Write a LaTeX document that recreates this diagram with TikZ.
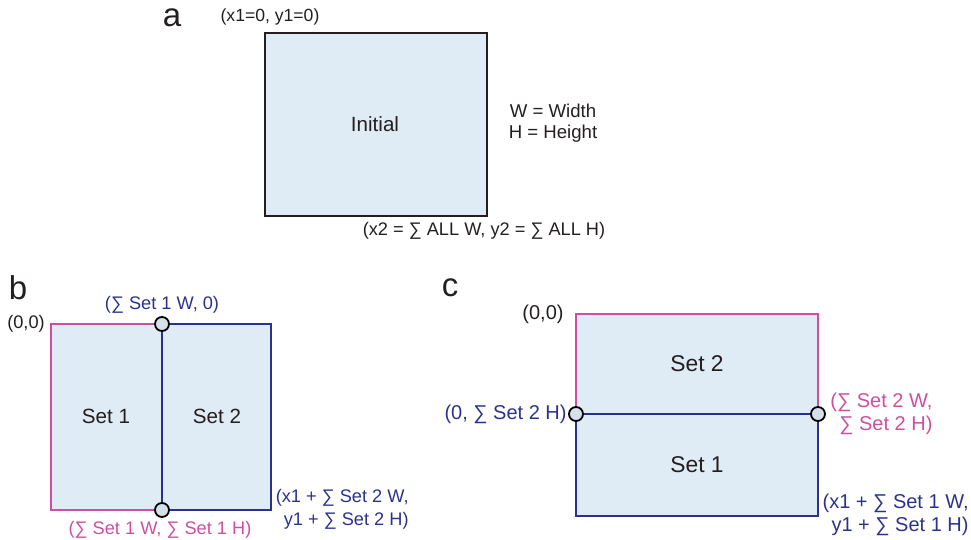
\documentclass[tikz,border=0pt]{standalone}
\usepackage{fontspec}
\setmainfont{Liberation Sans}
\usepackage{xcolor}
\definecolor{rpfill}{RGB}{223,235,245}
\definecolor{rppink}{RGB}{206,78,160}
\definecolor{rpblue}{RGB}{44,50,140}
\definecolor{rpdot}{RGB}{214,224,232}
\definecolor{rptext}{RGB}{35,31,32}
\usetikzlibrary{positioning}

\begin{document}
\begin{tikzpicture}[x=0.5pt, y=-0.5pt,
  edge/.style={line width=1pt},
  joint/.style={circle, draw=black, fill=rpdot, line width=0.9pt, minimum size=7pt, inner sep=0pt},
  coordlbl/.style={font=\fontsize{9.1}{11.5}\selectfont, inner sep=0pt, text=rptext},
  bigcoordlbl/.style={coordlbl, font=\fontsize{10}{11.5}\selectfont},
  setlbl/.style={font=\fontsize{10.3}{12}\selectfont, inner sep=0pt, text=rptext},
  panellbl/.style={font=\fontsize{16.5}{18}\selectfont, inner sep=0pt, text=rptext}]
  \useasboundingbox (0,0) rectangle (971,540);

  % --- Panel a: initial rectangle ---
  \node[panellbl] (la) at (172,18) {a};
  \coordinate (aTL) at (265,33);
  \coordinate (aBR) at (487,216);
  \draw[edge, draw=rptext, fill=rpfill] (aTL) rectangle (aBR);
  \node[setlbl] (init) at (375,124) {Initial};
  \node[coordlbl, font=\fontsize{8.8}{9}\selectfont] (aorig) at (270,17) {(x1=0, y1=0)};
  \node[coordlbl, align=center, font=\fontsize{9.3}{10.7}\selectfont] (legend) at (553,123) {W = Width\\H = Height};
  \node[coordlbl] (aend) at (484,231) {(x2 = ∑ ALL W, y2 = ∑ ALL H)};

  % --- Panel b: sets side by side ---
  \node[panellbl] (lb) at (18,288) {b};
  \coordinate (bTL) at (51,324);
  \coordinate (bTM) at (162,324);
  \coordinate (bTR) at (271,324);
  \coordinate (bBL) at (51,510);
  \coordinate (bBM) at (162,510);
  \coordinate (bBR) at (271,510);
  \fill[rpfill] (bTL) rectangle (bBR);
  \draw[edge, rppink] (bTM) -- (bTL) -- (bBL) -- (bBM);
  \draw[edge, rpblue] (bTM) -- (bTR) -- (bBR) -- (bBM);
  \draw[edge, rpblue] (bTM) -- (bBM);
  \node[joint] (bjTop) at (bTM) {};
  \node[joint] (bjBot) at (bBM) {};
  \node[setlbl] (bset1) at (106,416) {Set 1};
  \node[setlbl] (bset2) at (217,416) {Set 2};
  \node[coordlbl] (borig) at (26,324) {(0,0)};
  \node[coordlbl, text=rpblue] (btop) at (162,305) {(∑ Set 1 W, 0)};
  \node[coordlbl, text=rppink] (bbot) at (160,530) {(∑ Set 1 W, ∑ Set 1 H)};
  \node[coordlbl, text=rpblue, align=right, anchor=east] (bend) at (409,509) {(x1 + ∑ Set 2 W,\\y1 + ∑ Set 2 H)};

  % --- Panel c: sets stacked ---
  \node[panellbl] (lc) at (450,288) {c};
  \coordinate (cTL) at (576,314);
  \coordinate (cTR) at (818,314);
  \coordinate (cML) at (576,414);
  \coordinate (cMR) at (818,414);
  \coordinate (cBL) at (576,516);
  \coordinate (cBR) at (818,516);
  \fill[rpfill] (cTL) rectangle (cBR);
  \draw[edge, rppink] (cML) -- (cTL) -- (cTR) -- (cMR);
  \draw[edge, rpblue] (cML) -- (cBL) -- (cBR) -- (cMR);
  \draw[edge, rpblue] (cML) -- (cMR);
  \node[joint] (cjLeft) at (cML) {};
  \node[joint] (cjRight) at (cMR) {};
  \node[setlbl, font=\fontsize{11.4}{13}\selectfont] (cset2) at (697,364) {Set 2};
  \node[setlbl, font=\fontsize{11.4}{13}\selectfont] (cset1) at (697,465) {Set 1};
  \node[bigcoordlbl] (corig) at (543,314) {(0,0)};
  \node[bigcoordlbl, text=rpblue, anchor=east] (cleft) at (567,414) {(0, ∑ Set 2 H)};
  \node[bigcoordlbl, text=rppink, align=right, anchor=west] (cright) at (830,414) {(∑ Set 2 W,\\∑ Set 2 H)};
  \node[bigcoordlbl, text=rpblue, align=right, anchor=east] (cend) at (969,515) {(x1 + ∑ Set 1 W,\\y1 + ∑ Set 1 H)};
\end{tikzpicture}
\end{document}
